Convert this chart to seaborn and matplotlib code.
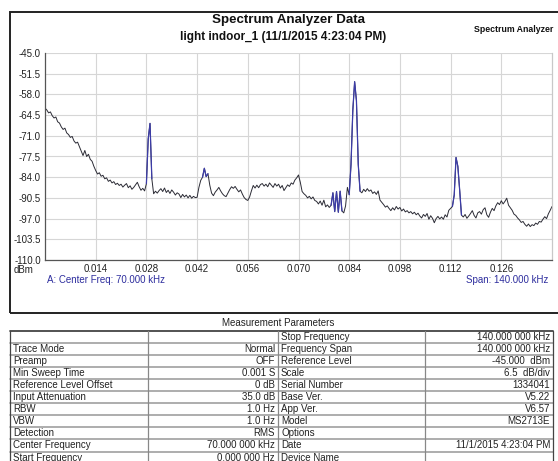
import numpy as np
import pandas as pd
import matplotlib
matplotlib.use("Agg")
import matplotlib.pyplot as plt
import seaborn as sns
from matplotlib.patches import Rectangle
from matplotlib.lines import Line2D

# ---------------- data ----------------
# trace sampled every 0.0005 (axis units as labelled), 0.000 .. 0.140
freq = np.linspace(0.0, 0.140, 281)
level = [
    -62.3, -62.9, -63.8, -63.5, -64.7, -65.4, -65.1, -66.6, -67.0, -68.2,
    -69.0, -68.6, -70.1, -70.6, -71.5, -71.2, -72.6, -73.3, -73.0, -74.4,
    -75.8, -77.2, -75.6, -77.5, -76.8, -78.4, -79.0, -80.6, -81.9, -83.0,
    -82.6, -83.7, -83.4, -84.5, -84.2, -85.3, -84.9, -85.8, -85.4, -86.3,
    -85.9, -86.6, -86.2, -87.1, -86.5, -86.0, -87.3, -86.7, -87.8, -87.2,
    -86.4, -85.6, -87.0, -88.1, -87.5, -88.3, -86.0, -72.0, -67.1, -84.5,
    -89.2, -88.4, -89.0, -88.2, -87.6, -88.5, -87.4, -88.8, -88.1, -89.1,
    -88.0, -88.7, -89.6, -88.9, -89.3, -90.4, -89.4, -90.2, -89.6, -90.5,
    -89.7, -90.6, -90.0, -90.4, -90.3, -87.2, -85.0, -84.0, -81.2, -83.8,
    -82.9, -86.5, -89.0, -89.8, -88.7, -88.0, -87.2, -88.3, -89.2, -89.8,
    -90.1, -89.0, -87.9, -87.0, -87.5, -86.9, -87.8, -88.6, -88.0, -89.3,
    -90.4, -91.0, -91.3, -90.2, -88.3, -86.6, -87.4, -86.5, -87.3, -86.3,
    -86.0, -86.8, -86.2, -87.0, -85.8, -86.5, -87.2, -86.0, -86.8, -86.2,
    -87.4, -86.6, -88.2, -87.3, -86.4, -86.9, -85.8, -86.2, -84.9, -84.2,
    -83.3, -85.6, -88.5, -89.2, -89.7, -90.5, -90.0, -90.8, -90.2, -91.3,
    -91.6, -92.4, -91.5, -92.8, -91.2, -93.3, -92.7, -93.5, -92.8, -88.9,
    -94.8, -88.5, -95.0, -88.4, -94.6, -95.2, -93.0, -87.2, -89.5, -80.0,
    -63.0, -54.0, -60.0, -80.0, -88.4, -88.9, -87.8, -88.5, -87.6, -88.4,
    -88.0, -89.1, -88.6, -89.4, -88.3, -91.2, -91.9, -92.6, -93.4, -93.0,
    -93.8, -94.5, -93.6, -94.3, -93.2, -94.0, -93.5, -94.6, -94.0, -94.9,
    -94.5, -95.2, -94.8, -95.5, -95.0, -95.8, -95.3, -96.2, -96.8, -95.7,
    -96.3, -95.4, -97.2, -96.1, -96.9, -98.3, -97.0, -96.3, -97.1, -96.5,
    -97.2, -95.8, -96.5, -94.4, -93.8, -93.2, -89.6, -77.8, -80.6, -88.0,
    -95.9, -96.5, -95.7, -96.9, -96.2, -95.4, -94.5, -96.0, -96.8, -95.2,
    -94.8, -95.6, -94.2, -93.6, -95.8, -96.6, -95.0, -93.8, -94.5, -93.0,
    -92.0, -92.6, -91.4, -92.4, -91.6, -90.6, -92.8, -93.6, -94.4, -95.6,
    -96.0, -96.8, -97.4, -98.2, -97.9, -98.8, -99.4, -98.7, -99.5, -98.9,
    -99.2, -98.4, -98.8, -97.9, -98.1, -97.2, -96.4, -97.0, -95.5, -94.4,
    -93.2,
]

# frequency ranges drawn in blue (peaks)
blue_ranges = [(0.0280, 0.0296), (0.0435, 0.0451), (0.0790, 0.0821), (0.0840, 0.0871), (0.1125, 0.1151)]

y_ticks = [-45.0, -51.5, -58.0, -64.5, -71.0, -77.5, -84.0, -90.5, -97.0, -103.5, -110.0]
x_ticks = [0.014, 0.028, 0.042, 0.056, 0.070, 0.084, 0.098, 0.112, 0.126]

table_rows = [
    ["", "", "Stop Frequency", "140.000 000 kHz"],
    ["Trace Mode", "Normal", "Frequency Span", "140.000 000 kHz"],
    ["Preamp", "OFF", "Reference Level", "-45.000  dBm"],
    ["Min Sweep Time", "0.001 S", "Scale", "6.5  dB/div"],
    ["Reference Level Offset", "0 dB", "Serial Number", "1334041"],
    ["Input Attenuation", "35.0 dB", "Base Ver.", "V5.22"],
    ["RBW", "1.0 Hz", "App Ver.", "V6.57"],
    ["VBW", "1.0 Hz", "Model", "MS2713E"],
    ["Detection", "RMS", "Options", ""],
    ["Center Frequency", "70.000 000 kHz", "Date", "11/1/2015 4:23:04 PM"],
    ["Start Frequency", "0.000 000 Hz", "Device Name", ""],
]

# ---------------- figure ----------------
W, H = 558, 461
sns.set_theme(style="whitegrid")
plt.rcParams['font.family'] = ['Liberation Sans', 'DejaVu Sans']
fig = plt.figure(figsize=(W / 100, H / 100), dpi=100)
fig.patch.set_facecolor("white")

def fx(p):
    return p / W

def fy(p):
    return 1 - p / H

# outer frame of chart section
fig.add_artist(Rectangle((fx(10), fy(313)), 1.2, fy(12) - fy(313), transform=fig.transFigure,
                         fill=False, edgecolor="#222222", linewidth=1.4))

ax = fig.add_axes([fx(45), fy(260), fx(552) - fx(45), fy(53) - fy(260)])
ax.set_facecolor("white")

df = pd.DataFrame({"freq": freq, "level": level})
sns.lineplot(data=df, x="freq", y="level", ax=ax, color="#2b2b35", linewidth=0.7,
             estimator=None, sort=False)
for lo, hi in blue_ranges:
    sub = df[(df["freq"] >= lo) & (df["freq"] <= hi)]
    sns.lineplot(data=sub, x="freq", y="level", ax=ax, color="#3c3ca8", linewidth=0.9,
                 estimator=None, sort=False)

ax.set_xlim(0, 0.140)
ax.set_ylim(-110, -45)
ax.set_xticks(x_ticks)
ax.set_xticklabels([f"{v:.3f}" for v in x_ticks])
ax.set_yticks(y_ticks)
ax.set_yticklabels([f"{v:.1f}" for v in y_ticks])
ax.tick_params(axis="both", length=0, labelsize=7, colors="#222222")
ax.tick_params(axis="x", pad=3)
ax.tick_params(axis="y", pad=3)
ax.grid(True, color="#d6d6d6", linewidth=0.8)
ax.set_xlabel("")
ax.set_ylabel("")
ax.spines["top"].set_visible(False)
ax.spines["left"].set_color("#555555")
ax.spines["bottom"].set_color("#555555")
ax.spines["right"].set_color("#c8c8c8")
for s in ["left", "bottom", "right"]:
    ax.spines[s].set_linewidth(0.9)

# titles
fig.text(fx(288), fy(20), "Spectrum Analyzer Data", ha="center", va="center",
         fontsize=9.6, fontweight="bold", color="#111111")
fig.text(fx(283), fy(37), "light indoor_1 (11/1/2015 4:23:04 PM)", ha="center", va="center",
         fontsize=8.5, fontweight="bold", color="#111111")
fig.text(fx(474), fy(30), "Spectrum Analyzer", ha="left", va="center",
         fontsize=6.3, fontweight="bold", color="#111111")
fig.text(fx(24), fy(270), "dBm", ha="center", va="center", fontsize=7, color="#222222")
fig.text(fx(47), fy(280), "A: Center Freq: 70.000 kHz", ha="left", va="center",
         fontsize=7, color="#2e2e9e")
fig.text(fx(548), fy(280), "Span: 140.000 kHz", ha="right", va="center",
         fontsize=7, color="#2e2e9e")

# ---------------- table ----------------
fig.text(fx(278), fy(323), "Measurement Parameters", ha="center", va="center",
         fontsize=7, color="#222222")
col_x = [10, 148, 278, 425, 553]
top = 330.5
rh = 12.1
nrows = len(table_rows)
bottom = top + rh * nrows
for i in range(nrows + 1):
    yy = top + rh * i
    lw = 1.3 if i == 0 else 1.2
    c = "#444444" if i == 0 else "#a0a0a0"
    fig.add_artist(Line2D([fx(col_x[0]), fx(col_x[-1])], [fy(yy), fy(yy)], transform=fig.transFigure,
                          color=c, linewidth=lw))
for j, cx in enumerate(col_x):
    c = "#444444" if j in (0, 4) else "#888888"
    fig.add_artist(Line2D([fx(cx), fx(cx)], [fy(top), fy(bottom)], transform=fig.transFigure,
                          color=c, linewidth=0.9))
for i, row in enumerate(table_rows):
    yc = top + rh * (i + 0.5)
    for j, txt in enumerate(row):
        if not txt:
            continue
        if j in (0, 2):
            fig.text(fx(col_x[j] + 3), fy(yc), txt, ha="left", va="center", fontsize=7, color="#222222")
        else:
            fig.text(fx(col_x[j + 1] - 3), fy(yc), txt, ha="right", va="center", fontsize=7, color="#222222")

fig.savefig("out.png", dpi=100)
